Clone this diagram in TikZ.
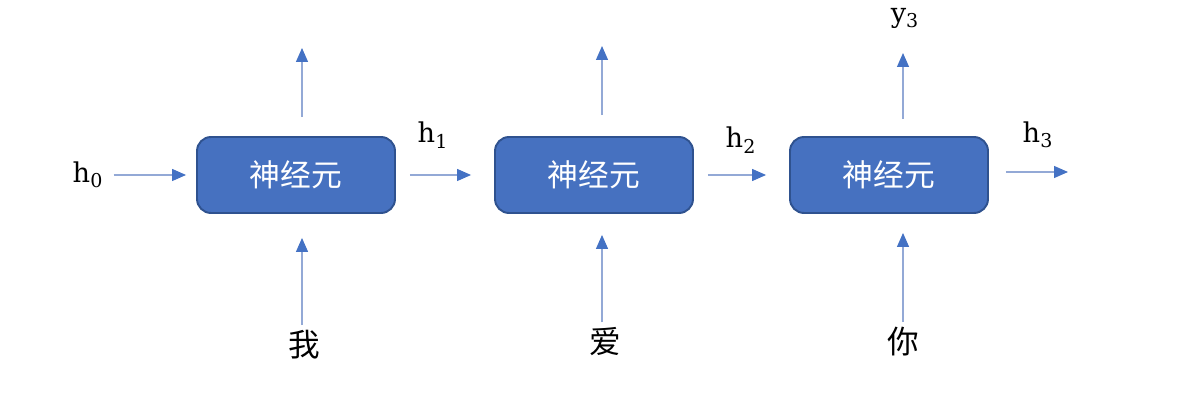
\documentclass[tikz,border=0pt]{standalone}
\usepackage{fontspec}
\newfontfamily\cjk{Noto Sans CJK SC}
\newfontfamily\labfont{DejaVu Serif}
\usepackage{tikz}
\usetikzlibrary{arrows.meta,positioning}
\definecolor{cellblue}{HTML}{4671C0}
\definecolor{cellborder}{HTML}{2F528F}
\definecolor{linkcol}{HTML}{93A9D6}
\definecolor{tipblue}{HTML}{4472C4}

\begin{document}
\begin{tikzpicture}[x=0.02cm, y=0.02cm]
    \tikzstyle{every node}+=[inner sep=0pt]
    \tikzstyle{cell}=[draw=cellborder, fill=cellblue, line width=1.1pt, rounded corners=0.28cm,
      minimum width=3.96cm, minimum height=1.52cm, text=white, font=\cjk\fontsize{17.5}{20}\selectfont]
    \tikzstyle{link}=[linkcol, line width=0.7pt, -{Triangle[width=0.24cm,length=0.28cm,color=tipblue]}]
    \tikzstyle{lab}=[font=\labfont\fontsize{15.5}{18}\selectfont]
    \tikzstyle{word}=[font=\cjk\fontsize{18}{21}\selectfont]
    \useasboundingbox (0,0) rectangle (1182,-401);
    % cells
    \node [cell] (c1) at (296,-175) {神经元};
    \node [cell] (c2) at (594,-175) {神经元};
    \node [cell] (c3) at (889,-175) {神经元};
    % hidden states
    \node [lab] (h0) at (88,-175) {h\textsubscript{0}};
    \node [lab] (h1) at (433,-135) {h\textsubscript{1}};
    \node [lab] (h2) at (741,-140) {h\textsubscript{2}};
    \node [lab] (h3) at (1038,-135) {h\textsubscript{3}};
    \node [lab] (y3) at (905,-18) {y\textsubscript{3}};
    % inputs
    \node [word] (w1) at (304,-345) {我};
    \node [word] (w2) at (605,-342) {爱};
    \node [word] (w3) at (903,-342) {你};
    % free ends
    \coordinate (t1) at (302,-48);
    \coordinate (t2) at (602,-46);
    \coordinate (t3) at (903,-53);
    \coordinate (o3) at (1068,-172);
    % links
    \draw [link, shorten <=0.2cm, shorten >=0.2cm] (h0) -- (c1);
    \draw [link, shorten <=0.28cm, shorten >=0.46cm] (c1) -- (c2);
    \draw [link, shorten <=0.28cm, shorten >=0.46cm] (c2) -- (c3);
    \draw [link, shorten <=0.34cm] (c3.east |- o3) -- (o3);
    \draw [link, shorten <=0.38cm] (c1.north -| t1) -- (t1);
    \draw [link, shorten <=0.42cm] (c2.north -| t2) -- (t2);
    \draw [link, shorten <=0.34cm] (c3.north -| t3) -- (t3);
    \draw [link, shorten <=0.1cm, shorten >=0.48cm] (w1.north -| t1) -- (c1.south -| t1);
    \draw [link, shorten <=0.1cm, shorten >=0.42cm] (w2.north -| t2) -- (c2.south -| t2);
    \draw [link, shorten <=0.1cm, shorten >=0.38cm] (w3.north -| t3) -- (c3.south -| t3);
\end{tikzpicture}
\end{document}
